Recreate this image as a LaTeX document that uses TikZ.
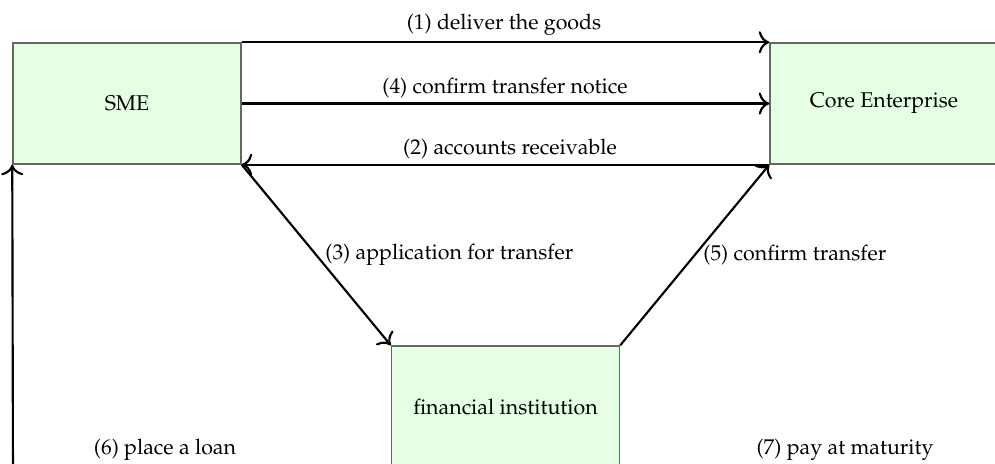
\documentclass[tikz,border=0pt]{standalone}
\usepackage[T1]{fontenc}
\usepackage{mathpazo}
\usetikzlibrary{arrows.meta}
\begin{document}
\begin{tikzpicture}[x=0.468pt,y=-0.468pt,
  party/.style={draw=black!60,fill=green!10,rectangle,minimum width=106.7pt,minimum height=56.6pt,inner sep=0pt,line width=0.7pt},
  flow/.style={-{To[scale=1.3]},line width=1pt,black},
  lbl/.style={inner sep=0pt,font=\normalsize}]
\clip (0,0) rectangle (995,463);
\useasboundingbox (0,0) rectangle (995,463);
\node[party] (sme) at (127,103.5) {SME};
\node[party] (core) at (884,103.5) {Core Enterprise};
\node[party] (fin) at (505.5,406.5) {financial institution};
\coordinate (loanstart) at (13,480);
\draw[flow] (sme.north east) -- (core.north west);
\draw[flow] (sme.east) -- (core.west);
\draw[flow] (core.south west) -- (sme.south east);
\draw[flow] (sme.south east) -- (fin.north west);
\draw[flow] (fin.north east) -- (core.south west);
\draw[flow] (loanstart) -- (sme.south west);
\node[lbl] (l1) at (504,25) {(1) deliver the goods};
\node[lbl] (l4) at (505,88) {(4) confirm transfer notice};
\node[lbl] (l2) at (510,149) {(2) accounts receivable};
\node[lbl,anchor=west] (l3) at (325,255) {(3) application for transfer};
\node[lbl,anchor=west] (l5) at (703,255) {(5) confirm transfer};
\node[lbl] (l6) at (165,450) {(6) place a loan};
\node[lbl] (l7) at (845,450) {(7) pay at maturity};
\end{tikzpicture}
\end{document}
